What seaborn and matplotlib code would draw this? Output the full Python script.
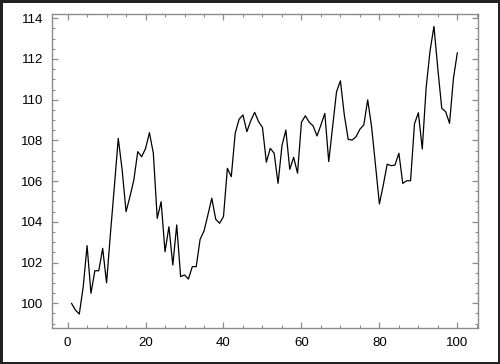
import matplotlib
matplotlib.use("Agg")
import matplotlib.pyplot as plt
from matplotlib.ticker import MultipleLocator
import seaborn as sns
import pandas as pd

steps = list(range(1, 101))
values = [
    100.0, 99.67, 99.47, 100.8, 102.83, 100.49, 101.6, 101.6, 102.7, 101.0,
    103.44, 105.73, 108.1, 106.55, 104.5, 105.24, 106.06, 107.45, 107.2, 107.6,
    108.38, 107.37, 104.17, 104.99, 102.53, 103.76, 101.88, 103.85, 101.31, 101.39,
    101.19, 101.8, 101.8, 103.14, 103.55, 104.34, 105.16, 104.13, 103.93, 104.26,
    106.63, 106.22, 108.35, 109.04, 109.25, 108.43, 108.97, 109.38, 108.92, 108.64,
    106.93, 107.61, 107.37, 105.89, 107.74, 108.51, 106.58, 107.17, 106.39, 108.89,
    109.21, 108.89, 108.71, 108.22, 108.76, 109.33, 106.96, 108.67, 110.39, 110.93,
    109.25, 108.05, 108.02, 108.18, 108.55, 108.76, 109.99, 108.67, 106.79, 104.88,
    105.81, 106.83, 106.76, 106.79, 107.37, 105.89, 106.02, 106.02, 108.81, 109.36,
    107.58, 110.6, 112.4, 113.6, 111.5, 109.58, 109.41, 108.84, 111.05, 112.31,
]

df = pd.DataFrame({"x": steps, "y": values})

sns.set_style("ticks")
plt.rcParams['font.family'] = ['Liberation Sans', 'DejaVu Sans']

fig = plt.figure(figsize=(5.0, 3.64), dpi=100)
fig.patch.set_facecolor("white")
fig.patch.set_edgecolor("#222222")
fig.patch.set_linewidth(2.5)
ax = fig.add_axes([0.104, 0.098, 0.852, 0.863])

sns.lineplot(data=df, x="x", y="y", ax=ax, color="black", linewidth=0.9)

ax.set_xlim(-4, 105.3)
ax.set_ylim(98.77, 114.2)
ax.xaxis.set_major_locator(MultipleLocator(20))
ax.xaxis.set_minor_locator(MultipleLocator(5))
ax.yaxis.set_major_locator(MultipleLocator(2))
ax.yaxis.set_minor_locator(MultipleLocator(0.5))
ax.set_xlabel("")
ax.set_ylabel("")

grey = "#8c8c8c"
for s in ax.spines.values():
    s.set_visible(True)
    s.set_color(grey)
    s.set_linewidth(1.0)

ax.tick_params(which="both", direction="in", top=True, right=True,
               color=grey, labelcolor="black", labelsize=9.5)
ax.tick_params(which="major", length=4.5, width=0.9, pad=6.0)
ax.tick_params(which="minor", length=2.3, width=0.8)

fig.savefig("out.png", dpi=100)
